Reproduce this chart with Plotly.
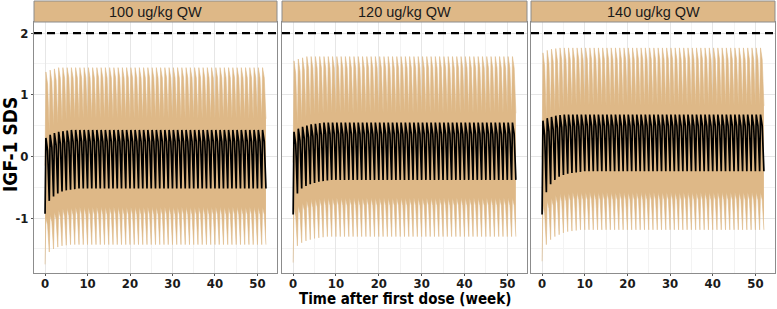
import plotly.graph_objects as go

# ---- data (weekly peak / trough values) ----
PANELS = ["100 ug/kg QW", "120 ug/kg QW", "140 ug/kg QW"]
N_WEEKS = 52
X_TICKS = [0, 10, 20, 30, 40, 50]
Y_TICKS = [-1, 0, 1, 2]
Y_TICK_LABELS = ["-1", "0", "1", "2"]
THRESHOLD = 2

# early-cycle values followed by the steady-state value
MED_PEAK = {
    "100 ug/kg QW": ([0.30, 0.35, 0.38, 0.40, 0.41, 0.42], 0.43),
    "120 ug/kg QW": ([0.40, 0.45, 0.48, 0.50, 0.52, 0.53, 0.54], 0.55),
    "140 ug/kg QW": ([0.58, 0.62, 0.64, 0.66, 0.67], 0.68),
}
MED_TROUGH = {
    "100 ug/kg QW": ([-0.93, -0.72, -0.65, -0.60, -0.57, -0.55, -0.54, -0.53], -0.52),
    "120 ug/kg QW": ([-0.94, -0.60, -0.52, -0.48, -0.45, -0.43, -0.41, -0.40, -0.39], -0.38),
    "140 ug/kg QW": ([-0.94, -0.58, -0.45, -0.38, -0.33, -0.30, -0.28, -0.27, -0.26, -0.25], -0.24),
}
UP_PEAK = {
    "100 ug/kg QW": ([1.37, 1.40, 1.42], 1.44),
    "120 ug/kg QW": ([1.55, 1.58, 1.60], 1.62),
    "140 ug/kg QW": ([1.68, 1.72, 1.74, 1.75], 1.76),
}
UP_TROUGH = {
    "100 ug/kg QW": ([-0.15, 0.40, 0.48, 0.53, 0.56, 0.58], 0.61),
    "120 ug/kg QW": ([-0.10, 0.50, 0.58, 0.62, 0.65, 0.67, 0.68], 0.70),
    "140 ug/kg QW": ([-0.05, 0.60, 0.68, 0.73, 0.76, 0.78, 0.80], 0.82),
}
LO_PEAK = {
    "100 ug/kg QW": ([-1.00, -0.95, -0.90, -0.87, -0.85, -0.84, -0.83], -0.82),
    "120 ug/kg QW": ([-0.85, -0.80, -0.75, -0.72, -0.70, -0.69, -0.68], -0.67),
    "140 ug/kg QW": ([-0.80, -0.72, -0.67, -0.63, -0.61, -0.60, -0.59], -0.58),
}
LO_TROUGH = {
    "100 ug/kg QW": ([-1.75, -1.55, -1.50, -1.47, -1.45, -1.44], -1.43),
    "120 ug/kg QW": ([-1.72, -1.45, -1.40, -1.37, -1.35, -1.33, -1.32, -1.31], -1.30),
    "140 ug/kg QW": ([-1.70, -1.43, -1.35, -1.30, -1.27, -1.24, -1.22, -1.21, -1.20], -1.19),
}

# within-week profile: peak shortly after dose, shoulder later, sharp trough at next dose
PEAK_AT = 0.2
SHOULDER_AT = 0.6
SHOULDER_LEVEL = 0.8

BAND_COLOR = "#DEB887"
STRIP_COLOR = "#DEB887"
FONT_BOLD = "DejaVu Sans Condensed, Liberation Sans Narrow, Liberation Sans, Arial"


def expand(spec, n):
    early, steady = spec
    return (early + [steady] * n)[:n]


def build_curve(peaks, troughs):
    xs, ys = [], []
    for w in range(N_WEEKS):
        p, t0, t1 = peaks[w], troughs[w], troughs[w + 1]
        xs += [w, w + PEAK_AT, w + SHOULDER_AT]
        ys += [t0, p, t1 + SHOULDER_LEVEL * (p - t1)]
    xs.append(N_WEEKS)
    ys.append(troughs[N_WEEKS])
    return xs, ys


W, H = 777, 309
x_px = [(34, 277), (282, 527), (531, 775)]
y_top_px, y_bot_px = 22, 273
y_dom = [(H - y_bot_px) / H, (H - y_top_px) / H]

fig = go.Figure()
for i, name in enumerate(PANELS):
    ax = "" if i == 0 else str(i + 1)
    xr, yr = "x" + ax, "y" + ax
    up_x, up_y = build_curve(expand(UP_PEAK[name], N_WEEKS), expand(UP_TROUGH[name], N_WEEKS + 1))
    lo_x, lo_y = build_curve(expand(LO_PEAK[name], N_WEEKS), expand(LO_TROUGH[name], N_WEEKS + 1))
    md_x, md_y = build_curve(expand(MED_PEAK[name], N_WEEKS), expand(MED_TROUGH[name], N_WEEKS + 1))
    fig.add_trace(go.Scatter(x=lo_x, y=lo_y, mode="lines", line=dict(color=BAND_COLOR, width=0.6),
                             xaxis=xr, yaxis=yr, showlegend=False, hoverinfo="skip"))
    fig.add_trace(go.Scatter(x=up_x, y=up_y, mode="lines", line=dict(color=BAND_COLOR, width=0.6),
                             fill="tonexty", fillcolor=BAND_COLOR,
                             xaxis=xr, yaxis=yr, showlegend=False, hoverinfo="skip"))
    fig.add_trace(go.Scatter(x=md_x, y=md_y, mode="lines", line=dict(color="black", width=1.7),
                             xaxis=xr, yaxis=yr, showlegend=False))
    # threshold line
    fig.add_shape(type="line", xref=xr + " domain", yref=yr, x0=0, x1=1, y0=THRESHOLD, y1=THRESHOLD,
                  line=dict(color="black", width=2.2, dash="8px,5px"))
    dom = [x_px[i][0] / W, x_px[i][1] / W]
    axis_common = dict(showline=True, mirror=True, linecolor="#8c8c8c", linewidth=1,
                       showgrid=True, gridcolor="#e6e6e6", gridwidth=1, zeroline=False,
                       ticks="outside", ticklen=2, tickcolor="#555555")
    fig.layout["xaxis" + ax] = dict(domain=dom, range=[-2.6, 54.6], tickvals=X_TICKS,
                                   minor=dict(dtick=5, tick0=0, showgrid=True, gridcolor="#f3f3f3"),
                                   anchor=yr, ticklabelstandoff=-4,
                                   tickfont=dict(family=FONT_BOLD, size=13, color="#1a1a1a", weight="bold"),
                                   **axis_common)
    fig.layout["yaxis" + ax] = dict(domain=y_dom, range=[-1.89, 2.18], tickvals=Y_TICKS,
                                   ticktext=Y_TICK_LABELS,
                                   minor=dict(dtick=0.5, tick0=0, showgrid=True, gridcolor="#f3f3f3"),
                                   anchor=xr, showticklabels=(i == 0),
                                   tickfont=dict(family=FONT_BOLD, size=13, color="#1a1a1a", weight="bold"),
                                   **axis_common)
    if i > 0:
        fig.layout["yaxis" + ax]["ticks"] = ""
    # strip
    fig.add_shape(type="rect", xref="paper", yref="paper", x0=dom[0], x1=dom[1],
                  y0=y_dom[1], y1=(H - 1) / H, fillcolor=STRIP_COLOR,
                  line=dict(color="#8c8c8c", width=1), layer="above")
    fig.add_annotation(xref="paper", yref="paper", x=(dom[0] + dom[1]) / 2,
                       y=(y_dom[1] + (H - 1) / H) / 2, text=name, showarrow=False,
                       font=dict(family="Liberation Sans, Arial", size=14.5, color="#1a1a1a"),
                       xanchor="center", yanchor="middle")

fig.add_annotation(xref="paper", yref="paper", x=(34 + 775) / 2 / W, y=(H - 299) / H,
                   text="Time after first dose (week)", showarrow=False,
                   font=dict(family=FONT_BOLD, size=15, color="black", weight="bold"),
                   xanchor="center", yanchor="middle")
fig.add_annotation(xref="paper", yref="paper", x=10 / W, y=(H - 145) / H,
                   text="IGF-1 SDS", showarrow=False, textangle=-90,
                   font=dict(family=FONT_BOLD, size=19, color="black", weight="bold"),
                   xanchor="center", yanchor="middle")

fig.update_layout(width=W, height=H, margin=dict(l=0, r=0, t=0, b=0),
                  paper_bgcolor="white", plot_bgcolor="white")
fig.write_html("out.html", config={"displayModeBar": False},
               post_script="document.body.style.margin='0';")
